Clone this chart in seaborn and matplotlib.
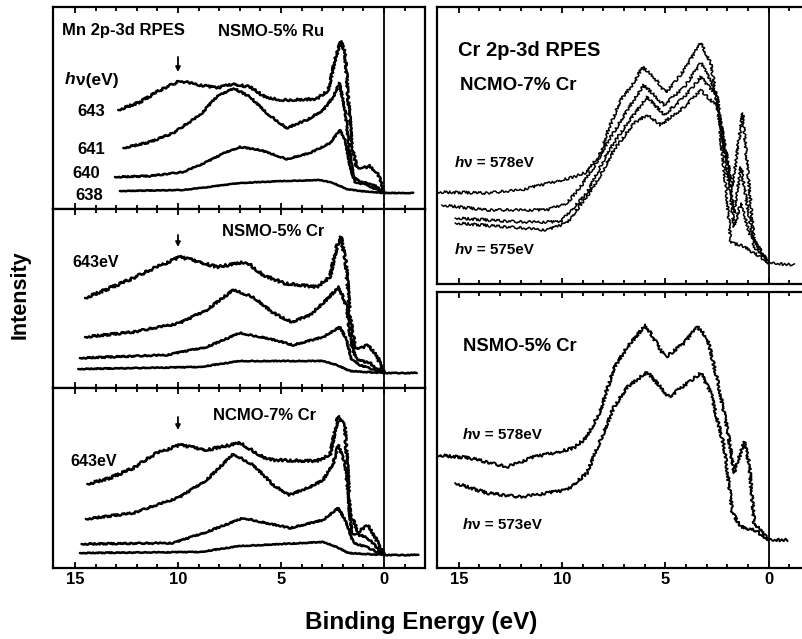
import matplotlib
matplotlib.use("Agg")
import matplotlib.pyplot as plt
import seaborn as sns

sns.set_theme(style="ticks")
plt.rcParams['font.family'] = ['Liberation Sans', 'DejaVu Sans']
plt.rcParams['font.weight'] = 'bold'
plt.rcParams['text.color'] = 'black'
plt.rcParams['axes.labelcolor'] = 'black'
plt.rcParams['xtick.color'] = 'black'
plt.rcParams['xtick.labelcolor'] = 'black'
plt.rcParams['axes.edgecolor'] = 'black'

# ---------------- data (binding energy in eV, intensity in arb. units) -------------
# Mn 2p-3d RPES, NSMO-5% Ru
ru643_x = [12.90, 11.84, 10.87, 9.90, 8.93, 8.12, 7.31, 6.50, 5.70, 4.89, 3.27, 2.70, 2.38, 2.10, 1.89, 1.73, 1.57, 1.33, 1.00, 0.68, 0.36, 0.11, 0.0]
ru643_y = [99, 107, 119, 128, 124, 121, 125, 122, 111, 109, 110, 119, 149, 168, 156, 109, 66, 42, 41, 43, 37, 26, 16]
ru641_x = [12.65, 11.36, 10.23, 8.93, 8.12, 7.31, 6.50, 5.70, 4.72, 3.75, 2.95, 2.46, 2.17, 1.89, 1.68, 1.49, 1.17, 0.52, 0.0]
ru641_y = [61, 67, 76, 94, 112, 121, 112, 96, 81, 89, 99, 112, 126, 99, 59, 32, 27, 25, 16]
ru640_x = [13.06, 11.36, 9.74, 8.61, 7.64, 6.99, 6.02, 4.72, 3.59, 2.62, 2.14, 1.89, 1.65, 1.41, 0.84, 0.0]
ru640_y = [32, 33, 37, 47, 57, 62, 59, 50, 56, 66, 79, 69, 42, 27, 24, 16]
ru638_x = [12.82, 9.74, 8.12, 6.99, 4.89, 3.11, 2.46, 1.81, 1.17, 0.0, -1.42]
ru638_y = [18, 19, 23, 26, 28, 29, 26, 20, 18, 16, 16]

# Mn 2p-3d RPES, NSMO-5% Cr
scr1_x = [14.51, 13.30, 12.17, 11.04, 9.90, 8.93, 8.12, 6.67, 5.86, 4.89, 3.27, 2.62, 2.30, 2.10, 1.86, 1.65, 1.41, 1.08, 0.76, 0.36, 0.0]
scr1_y = [90, 100, 110, 121, 131, 126, 121, 126, 113, 105, 101, 111, 141, 151, 128, 71, 41, 40, 43, 33, 15]
scr2_x = [14.51, 12.17, 9.90, 8.61, 7.31, 6.34, 5.37, 4.48, 3.59, 2.95, 2.18, 1.81, 1.57, 1.33, 0.68, 0.0]
scr2_y = [51, 56, 65, 78, 98, 91, 75, 66, 73, 85, 101, 81, 41, 28, 25, 15]
scr3_x = [14.76, 10.55, 8.61, 6.99, 5.70, 4.40, 2.95, 2.14, 1.81, 1.57, 1.17, 0.0]
scr3_y = [30, 33, 41, 55, 50, 43, 51, 61, 48, 28, 23, 15]
scr4_x = [14.84, 8.93, 6.99, 2.95, 2.30, 1.65, 0.0, -1.59]
scr4_y = [19, 21, 27, 27, 23, 17, 15, 15]

# Mn 2p-3d RPES, NCMO-7% Cr
ncr1_x = [14.40, 13.30, 12.17, 11.04, 9.90, 8.61, 6.99, 5.86, 5.37, 3.27, 2.62, 2.22, 1.89, 1.65, 1.25, 0.76, 0.36, 0.0]
ncr1_y = [84, 90, 100, 115, 123, 118, 125, 111, 108, 107, 113, 152, 141, 55, 36, 43, 28, 13]
ncr2_x = [14.47, 12.17, 9.90, 8.61, 7.31, 6.34, 5.37, 4.60, 3.59, 2.95, 2.46, 2.22, 1.89, 1.57, 0.84, 0.0]
ncr2_y = [49, 55, 71, 88, 114, 103, 83, 73, 81, 88, 105, 123, 105, 35, 31, 13]
ncr3_x = [14.68, 10.23, 8.61, 6.83, 5.70, 4.56, 2.95, 2.22, 1.81, 1.49, 0.84, 0.0]
ncr3_y = [24, 25, 36, 50, 45, 40, 48, 60, 45, 25, 21, 13]
ncr4_x = [14.76, 8.93, 6.99, 2.95, 2.30, 1.73, 0.0, -1.67]
ncr4_y = [15, 16, 22, 26, 21, 15, 13, 13]

# Cr 2p-3d RPES, NCMO-7% Cr
c578_x = [16.07, 13.64, 12.02, 10.40, 9.43, 8.79, 8.14, 7.82, 7.17, 6.52, 6.12, 5.55, 4.98, 4.09, 3.28, 2.80, 2.23, 1.75, 1.26, 0.94, 0.70, 0.0]
c578_y = [92, 91, 94, 102, 107, 112, 131, 151, 184, 201, 217, 207, 191, 214, 241, 221, 151, 97, 171, 97, 44, 21]
c577_x = [15.83, 13.64, 10.73, 9.76, 9.11, 8.46, 7.82, 6.84, 6.04, 5.06, 4.09, 3.28, 2.64, 1.99, 1.67, 1.34, 0.94, 0.70, 0.0]
c577_y = [79, 74, 74, 81, 97, 117, 141, 174, 199, 179, 197, 221, 197, 117, 71, 117, 67, 37, 21]
c576_x = [15.18, 12.02, 10.08, 8.79, 7.82, 6.84, 5.87, 5.06, 4.09, 3.28, 2.48, 1.99, 1.67, 1.34, 0.94, 0.0]
c576_y = [66, 62, 62, 91, 131, 161, 187, 169, 187, 207, 187, 111, 57, 81, 51, 21]
c575_x = [15.18, 10.73, 9.76, 8.46, 7.49, 6.52, 5.87, 5.23, 4.09, 3.28, 2.48, 2.07, 1.83, 1.34, 0.70, 0.0, -1.25]
c575_y = [61, 54, 61, 97, 134, 161, 169, 159, 177, 194, 177, 97, 41, 39, 31, 21, 19]

# Cr 2p-3d RPES, NSMO-5% Cr
s578_x = [16.07, 14.45, 12.67, 11.38, 10.40, 9.43, 8.79, 8.14, 7.49, 6.84, 5.95, 5.23, 4.98, 4.09, 3.45, 2.96, 2.48, 1.99, 1.67, 1.18, 0.94, 0.70, 0.0]
s578_y = [113, 110, 101, 111, 115, 120, 131, 158, 200, 221, 243, 218, 211, 225, 241, 230, 188, 138, 95, 126, 105, 45, 28]
s573_x = [15.18, 13.64, 12.02, 9.76, 8.79, 8.14, 7.49, 6.84, 5.87, 4.82, 3.93, 3.28, 2.80, 2.15, 1.75, 1.34, 0.70, 0.0, -0.92]
s573_y = [85, 75, 71, 78, 95, 128, 161, 181, 196, 171, 185, 195, 175, 121, 55, 41, 38, 28, 28]

major_ticks = [15, 10, 5, 0]
tick_labels = ["15", "10", "5", "0"]
minor_ticks = list(range(-1, 16))

# ---------------- figure ----------------
W, H = 802, 639
fig = plt.figure(figsize=(W / 100, H / 100), dpi=100)


def add_ax(x0, y0, x1, y1):
    return fig.add_axes([x0 / W, 1 - y1 / H, (x1 - x0) / W, (y1 - y0) / H])


def style(ax, xlim, ylim, labels):
    ax.set_xlim(*xlim)
    ax.set_ylim(*ylim)
    ax.set_yticks([])
    ax.set_xticks(major_ticks)
    ax.set_xticks(minor_ticks, minor=True)
    if labels:
        ax.set_xticklabels(tick_labels, fontsize=12, fontweight='bold', color='black')
    else:
        ax.set_xticklabels([])
    ax.tick_params(axis='x', which='both', direction='in', top=True, bottom=True,
                   width=1.3, color='black', pad=3)
    ax.tick_params(axis='x', which='major', length=4.5)
    ax.tick_params(axis='x', which='minor', length=3)
    for s in ax.spines.values():
        s.set_linewidth(1.6)
        s.set_color('black')
    ax.set_xlabel("")
    ax.set_ylabel("")
    ax.axvline(0, color='black', lw=1.3, zorder=1)
    ax.set_facecolor('white')


def curve(ax, x, y, lw, noise):
    sns.lineplot(x=x, y=y, ax=ax, color='black', lw=lw, sort=False, estimator=None)
    if noise > 0:
        ax.lines[-1].set_sketch_params(scale=noise, length=2.5, randomness=6)


def ftext(px, py, s, size, ha='left', style_='normal', rot=0):
    return fig.text(px / W, 1 - py / H, s, fontsize=size, fontweight='bold', ha=ha,
                    va='center', fontstyle=style_, rotation=rot, color='black')


def hnu(ax, px, py, rest, size):
    t = ftext(px, py, "h", size, style_='italic')
    ax.annotate(rest, xy=(1, 0), xycoords=t, fontsize=size, fontweight='bold',
                ha='left', va='bottom', annotation_clip=False, clip_on=False,
                color='black')


LX = (16.09, -1.99)
RX = (16.07, -1.81)

# left column
ax1 = add_ax(52.5, 7, 425, 209)
ax2 = add_ax(52.5, 209, 425, 388)
ax3 = add_ax(52.5, 388, 425, 568)
# right column
ax4 = add_ax(436.7, 7, 806, 284)
ax5 = add_ax(436.7, 292, 806, 568)

style(ax1, LX, (0, 202), False)
style(ax2, LX, (0, 179), False)
style(ax3, LX, (0, 180), True)
style(ax4, RX, (0, 277), False)
style(ax5, RX, (0, 276), True)

for ax, data in [
    (ax1, [(ru643_x, ru643_y, 1.1), (ru641_x, ru641_y, 0.8), (ru640_x, ru640_y, 0.6), (ru638_x, ru638_y, 0.3)]),
    (ax2, [(scr1_x, scr1_y, 1.3), (scr2_x, scr2_y, 1.0), (scr3_x, scr3_y, 0.7), (scr4_x, scr4_y, 0.4)]),
    (ax3, [(ncr1_x, ncr1_y, 1.2), (ncr2_x, ncr2_y, 0.9), (ncr3_x, ncr3_y, 0.7), (ncr4_x, ncr4_y, 0.4)]),
]:
    for x, y, n in data:
        curve(ax, x, y, 1.8, n)

for x, y in [(c578_x, c578_y), (c577_x, c577_y), (c576_x, c576_y), (c575_x, c575_y)]:
    curve(ax4, x, y, 1.1, 1.3)
for x, y in [(s578_x, s578_y), (s573_x, s573_y)]:
    curve(ax5, x, y, 1.4, 1.4)

# arrows at 10 eV
for ax, (y0, y1) in [(ax1, (152, 137)), (ax2, (153, 141)), (ax3, (151, 138))]:
    ax.annotate("", xy=(10, y1), xytext=(10, y0),
                arrowprops=dict(arrowstyle='-|>', color='black', lw=1.3,
                                mutation_scale=7, shrinkA=0, shrinkB=0))

# left panel texts
ftext(62, 31, "Mn 2p-3d RPES", 12)
ftext(218, 31, "NSMO-5% Ru", 12)
hnu(ax1, 65, 80, "ν(eV)", 12.5)
ftext(77, 111, "643", 12)
ftext(77, 149, "641", 12)
ftext(72, 174, "640", 12)
ftext(75, 195, "638", 12)

ftext(222, 232, "NSMO-5% Cr", 12)
ftext(72, 263, "643eV", 11.5)
ftext(213, 415, "NCMO-7% Cr", 12)
ftext(70, 462, "643eV", 11.5)

# right panel texts
ftext(458, 50, "Cr 2p-3d RPES", 14.5)
ftext(460, 85, "NCMO-7% Cr", 13.5)
hnu(ax4, 455, 163, "ν = 578eV", 11)
hnu(ax4, 455, 250, "ν = 575eV", 11)
ftext(463, 347, "NSMO-5% Cr", 13.2)
hnu(ax5, 463, 435, "ν = 578eV", 11)
hnu(ax5, 463, 525, "ν = 573eV", 11)

# axis titles
ftext(421, 622, "Binding Energy (eV)", 17.5, ha='center')
ftext(20, 295, "Intensity", 15.5, ha='center', rot=90)

fig.savefig("out.png", dpi=100, facecolor='white')
